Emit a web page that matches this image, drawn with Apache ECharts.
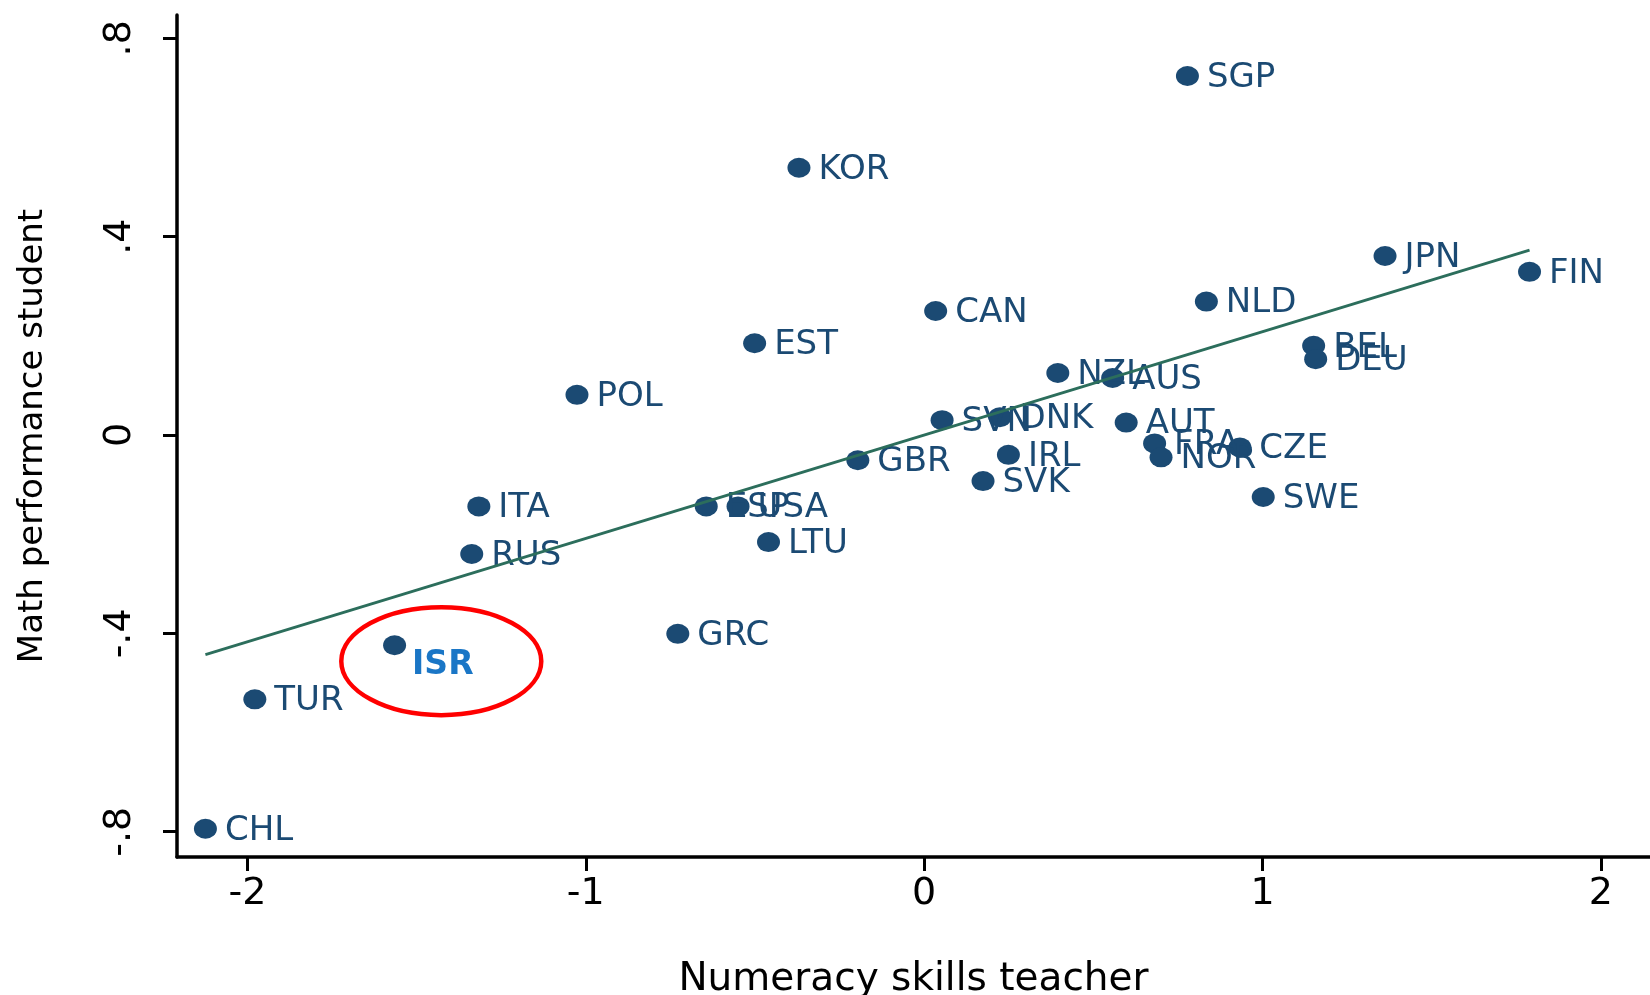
<!DOCTYPE html>
<html>
<head>
<meta charset="utf-8">
<script src="https://cdn.jsdelivr.net/npm/echarts@6/dist/echarts.min.js"></script>
<style>
  html, body { margin: 0; padding: 0; background: #fff; }
  #chart { width: 1650px; height: 995px; }
</style>
</head>
<body>
<div id="chart"></div>
<script>
// country codes with teacher numeracy (x) and student math (y)
const countries = ['SGP', 'KOR', 'JPN', 'FIN', 'NLD', 'CAN', 'EST', 'BEL', 'DEU', 'NZL',
  'AUS', 'POL', 'SVN', 'DNK', 'AUT', 'FRA', 'CZE', 'NOR', 'IRL', 'GBR',
  'SVK', 'SWE', 'ITA', 'ESP', 'USA', 'LTU', 'RUS', 'GRC', 'ISR', 'TUR', 'CHL'];
const teacherSkills = [0.778, -0.370, 1.362, 1.789, 0.834, 0.034, -0.501, 1.151, 1.157, 0.395,
  0.557, -1.026, 0.053, 0.224, 0.597, 0.681, 0.933, 0.700, 0.249, -0.196,
  0.174, 1.002, -1.316, -0.644, -0.550, -0.460, -1.337, -0.728, -1.565, -1.978, -2.124];
const studentMath = [0.724, 0.539, 0.361, 0.329, 0.269, 0.250, 0.185, 0.180, 0.153, 0.125,
  0.115, 0.081, 0.030, 0.036, 0.025, -0.017, -0.025, -0.045, -0.040, -0.051,
  -0.093, -0.125, -0.144, -0.144, -0.144, -0.216, -0.240, -0.401, -0.424, -0.533, -0.794];

// fitted line end points
const fitX = [-2.124, 1.789];
const fitY = [-0.443, 0.373];

const xTicks = [-2, -1, 0, 1, 2];
const xTickLabels = ['-2', '-1', '0', '1', '2'];
const yTicks = [-0.8, -0.4, 0, 0.4, 0.8];
const yTickLabels = ['-.8', '-.4', '0', '.4', '.8'];

const highlight = 'ISR';
const ringCenter = [[-1.427, -0.456]];

const font = 'DejaVu Sans';
const navy = '#1b4a73';

const chart = echarts.init(document.getElementById('chart'));

const tickText = (ticks, labels) => v => {
  const i = ticks.findIndex(t => Math.abs(t - v) < 1e-9);
  return i >= 0 ? labels[i] : '';
};

const points = countries.map((c, i) => {
  const item = { name: c, value: [teacherSkills[i], studentMath[i]] };
  if (c === highlight) {
    item.label = {
      color: '#1a76c6',
      fontWeight: 'bold',
      fontSize: 33,
      offset: [-2, 20]
    };
  }
  return item;
});

const option = {
  animation: false,
  grid: {
    left: 177,
    right: 0,
    top: 15,
    bottom: 138,
    containLabel: false,
    outerBoundsMode: 'none'
  },
  xAxis: {
    type: 'value',
    min: -2.208,
    max: 2.145,
    splitLine: { show: false },
    axisLine: { show: true, onZero: false, lineStyle: { color: '#000', width: 3.5 } },
    axisTick: { show: true, customValues: xTicks, length: 14, lineStyle: { color: '#000', width: 3 } },
    axisLabel: {
      customValues: xTicks,
      formatter: tickText(xTicks, xTickLabels),
      color: '#000',
      fontFamily: font,
      fontSize: 38,
      margin: 18
    },
    name: 'Numeracy skills teacher',
    nameLocation: 'middle',
    nameGap: 103,
    nameTextStyle: { color: '#000', fontFamily: font, fontSize: 39 }
  },
  yAxis: {
    type: 'value',
    min: -0.851,
    max: 0.847,
    splitLine: { show: false },
    axisLine: { show: true, onZero: false, lineStyle: { color: '#000', width: 3.5 } },
    axisTick: { show: true, customValues: yTicks, length: 14, lineStyle: { color: '#000', width: 3 } },
    axisLabel: {
      customValues: yTicks,
      formatter: tickText(yTicks, yTickLabels),
      rotate: 90,
      color: '#000',
      fontFamily: font,
      fontSize: 38,
      margin: 38
    },
    name: 'Math performance student',
    nameLocation: 'middle',
    nameRotate: 90,
    nameGap: 127,
    nameTextStyle: { color: '#000', fontFamily: font, fontSize: 34 }
  },
  series: [
    {
      type: 'scatter',
      symbol: 'circle',
      symbolSize: [23, 20],
      itemStyle: { color: navy, opacity: 1 },
      label: {
        show: true,
        position: 'right',
        distance: 8,
        offset: [0, 2],
        formatter: '{b}',
        color: navy,
        fontFamily: font,
        fontSize: 34
      },
      data: points,
      z: 2
    },
    {
      type: 'line',
      symbol: 'none',
      lineStyle: { color: '#2c6e5c', width: 2.8 },
      data: fitX.map((x, i) => [x, fitY[i]]),
      z: 3
    },
    {
      type: 'custom',
      silent: true,
      clip: false,
      renderItem: (params, api) => {
        const p = api.coord([api.value(0), api.value(1)]);
        return {
          type: 'ellipse',
          shape: { cx: p[0], cy: p[1], rx: 100, ry: 54 },
          style: { fill: 'none', stroke: '#ff0000', lineWidth: 4.5 }
        };
      },
      data: ringCenter,
      z: 4
    }
  ]
};

chart.setOption(option);
</script>
</body>
</html>
